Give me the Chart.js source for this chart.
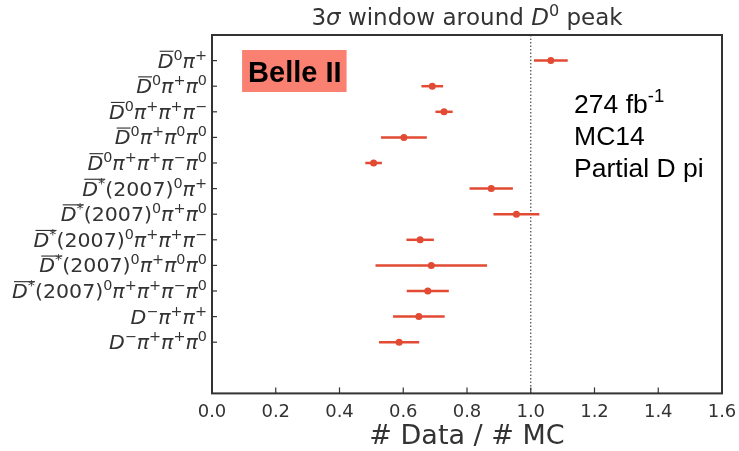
<!DOCTYPE html>
<html>
<head>
<meta charset="utf-8">
<script src="https://cdn.jsdelivr.net/npm/chart.js@4.4.1/dist/chart.umd.min.js"></script>
<style>
  html, body { margin: 0; padding: 0; background: #fff; }
  #wrap { width: 739px; height: 451px; }
</style>
</head>
<body>
<div id="wrap"><canvas id="ratioChart" width="739" height="451"></canvas></div>
<script>
// decay channels, top to bottom (mathtext-like strings)
let channels = [
  "$\\overline{D}^0\\pi^+$",
  "$\\overline{D}^0\\pi^+\\pi^0$",
  "$\\overline{D}^0\\pi^+\\pi^+\\pi^-$",
  "$\\overline{D}^0\\pi^+\\pi^0\\pi^0$",
  "$\\overline{D}^0\\pi^+\\pi^+\\pi^-\\pi^0$",
  "$\\overline{D^*}(2007)^0\\pi^+$",
  "$\\overline{D^*}(2007)^0\\pi^+\\pi^0$",
  "$\\overline{D^*}(2007)^0\\pi^+\\pi^+\\pi^-$",
  "$\\overline{D^*}(2007)^0\\pi^+\\pi^0\\pi^0$",
  "$\\overline{D^*}(2007)^0\\pi^+\\pi^+\\pi^-\\pi^0$",
  "$D^-\\pi^+\\pi^+$",
  "$D^-\\pi^+\\pi^+\\pi^0$"
];

// # Data / # MC and its uncertainty
let ratios = [1.063, 0.691, 0.728, 0.602, 0.507, 0.876, 0.955, 0.653, 0.688, 0.677, 0.649, 0.587];
let errors = [0.053, 0.034, 0.027, 0.072, 0.026, 0.068, 0.072, 0.043, 0.175, 0.066, 0.081, 0.063];

let xTicks = [0.0, 0.2, 0.4, 0.6, 0.8, 1.0, 1.2, 1.4, 1.6];
let refLine = 1.0;

let titleText = "3$\\sigma$ window around $D^0$ peak";
let xTitle = "# Data / # MC";
let badgeText = "Belle II";
let infoLines = ["274 fb^{-1}", "MC14", "Partial D pi"];

let red = "#e24a33";
let mathFont = "'DejaVu Sans', sans-serif";
let textFont = "'Liberation Sans', Arial, sans-serif";

// ---- tiny mathtext renderer ----
let symbols = { "\\pi": "π", "\\sigma": "σ" };
let overId = 0;

function group(s, i) {
  if (s[i] === "{") {
    let depth = 0, j = i;
    do {
      if (s[j] === "{") depth++;
      if (s[j] === "}") depth--;
      j++;
    } while (depth > 0);
    return [s.slice(i + 1, j - 1), j];
  }
  if (s[i] === "\\") {
    let m = s.slice(i).match(/^\\[a-zA-Z]+/)[0];
    return [m, i + m.length];
  }
  return [s[i], i + 1];
}

function parse(s, style, runs) {
  let i = 0;
  while (i < s.length) {
    let c = s[i];
    if (c === "$") {
      style = Object.assign({}, style, { math: !style.math });
      i++;
    } else if (c === "^") {
      let [g, j] = group(s, i + 1);
      parse(g, Object.assign({}, style, { sup: true }), runs);
      i = j;
    } else if (c === "\\") {
      let cmd = s.slice(i).match(/^\\[a-zA-Z]+/)[0];
      i += cmd.length;
      if (cmd === "\\overline") {
        let [g, j] = group(s, i);
        parse(g, Object.assign({}, style, { over: ++overId }), runs);
        i = j;
      } else {
        runs.push({ text: symbols[cmd] || cmd, italic: style.math, sup: style.sup, over: style.over });
      }
    } else {
      let ch = c;
      let italic = false;
      if (style.math) {
        if (ch === "-") ch = "\u2212";
        italic = /[A-Za-z]/.test(ch);
      }
      runs.push({ text: ch, italic: italic, sup: style.sup, over: style.over });
      i++;
    }
  }
  return runs;
}

function runFont(r, size, family, weight) {
  let s = r.sup ? size * 0.7 : size;
  return (r.italic ? "italic " : "") + (weight || "normal") + " " + s + "px " + family;
}

function drawRich(ctx, str, x, y, opt) {
  let sx = opt.sx || 1;
  let runs = parse(str, {}, []);
  let total = 0;
  runs.forEach(r => {
    ctx.font = runFont(r, opt.size, opt.family, opt.weight);
    r.w = ctx.measureText(r.text).width * sx;
    total += r.w;
  });
  let cx = x;
  if (opt.align === "right") cx = x - total;
  if (opt.align === "center") cx = x - total / 2;
  ctx.fillStyle = opt.color;
  ctx.textBaseline = "alphabetic";
  ctx.textAlign = "left";
  let spans = {};
  runs.forEach(r => {
    ctx.font = runFont(r, opt.size, opt.family, opt.weight);
    let rise = r.sup ? opt.size * (opt.rise || 0.42) : 0;
    ctx.save();
    ctx.translate(cx, y - rise);
    ctx.scale(sx, 1);
    ctx.fillText(r.text, 0, 0);
    ctx.restore();
    if (r.over) {
      let sp = spans[r.over] || (spans[r.over] = { a: cx, b: cx });
      sp.b = cx + r.w;
    }
    cx += r.w;
  });
  ctx.strokeStyle = opt.color;
  ctx.lineWidth = Math.max(1, opt.size * 0.06);
  Object.values(spans).forEach(sp => {
    let ly = y - opt.size * 0.86;
    ctx.beginPath();
    ctx.moveTo(sp.a + 2, ly);
    ctx.lineTo(sp.b, ly);
    ctx.stroke();
  });
  return total;
}

// ---- plugin: error bars, frame, labels, annotations ----
let decorations = {
  id: "decorations",
  beforeDatasetsDraw(chart) {
    let ctx = chart.ctx;
    let a = chart.chartArea;
    let xs = chart.scales.x;
    let ys = chart.scales.y;
    ctx.save();

    // reference line
    let rx = xs.getPixelForValue(refLine);
    ctx.strokeStyle = "#555";
    ctx.lineWidth = 1.3;
    ctx.setLineDash([1.5, 2]);
    ctx.beginPath();
    ctx.moveTo(rx, a.top);
    ctx.lineTo(rx, a.bottom);
    ctx.stroke();
    ctx.setLineDash([]);

    // error bars
    ctx.strokeStyle = red;
    ctx.lineWidth = 2.5;
    ratios.forEach((v, i) => {
      let py = ys.getPixelForValue(i);
      ctx.beginPath();
      ctx.moveTo(xs.getPixelForValue(v - errors[i]), py);
      ctx.lineTo(xs.getPixelForValue(v + errors[i]), py);
      ctx.stroke();
    });
    ctx.restore();
  },
  afterDraw(chart) {
    let ctx = chart.ctx;
    let a = chart.chartArea;
    let xs = chart.scales.x;
    let ys = chart.scales.y;
    ctx.save();

    // frame
    ctx.strokeStyle = "#333";
    ctx.lineWidth = 2;
    ctx.strokeRect(a.left, a.top, a.right - a.left, a.bottom - a.top);

    // inward ticks
    ctx.lineWidth = 1.2;
    xTicks.forEach(t => {
      let px = xs.getPixelForValue(t);
      ctx.beginPath();
      ctx.moveTo(px, a.bottom);
      ctx.lineTo(px, a.bottom - 6);
      ctx.stroke();
    });
    channels.forEach((c, i) => {
      let py = ys.getPixelForValue(i);
      ctx.beginPath();
      ctx.moveTo(a.left, py);
      ctx.lineTo(a.left + 5, py);
      ctx.stroke();
    });

    // channel labels
    channels.forEach((c, i) => {
      let py = ys.getPixelForValue(i);
      drawRich(ctx, c, a.left - 5, py + 7, { size: 19, sx: 1.08, family: mathFont, color: "#333", align: "right" });
    });

    // title
    drawRich(ctx, titleText, (a.left + a.right) / 2, a.top - 10, { size: 23, family: mathFont, color: "#333", align: "center", rise: 0.38 });

    // Belle II badge
    let bx = a.left + (a.right - a.left) * 0.059;
    let by = a.top + 15;
    ctx.font = "bold 29px " + textFont;
    let bw = ctx.measureText(badgeText).width;
    ctx.fillStyle = "#fa8072";
    ctx.fillRect(bx, by, bw + 11, 42);
    ctx.fillStyle = "#000";
    ctx.textAlign = "left";
    ctx.textBaseline = "alphabetic";
    ctx.fillText(badgeText, bx + 6, by + 32);

    // info text
    let ix = a.left + (a.right - a.left) * 0.71;
    infoLines.forEach((t, k) => {
      drawRich(ctx, t, ix, a.top + 78 + k * 32, { size: 26.5, family: textFont, color: "#000", align: "left", rise: 0.42 });
    });
    ctx.restore();
  }
};

let ctx = document.getElementById("ratioChart").getContext("2d");

new Chart(ctx, {
  type: "scatter",
  plugins: [decorations],
  data: {
    datasets: [{
      data: ratios.map((v, i) => ({ x: v, y: i })),
      backgroundColor: red,
      borderColor: red,
      pointRadius: 3.5,
      pointBorderWidth: 0
    }]
  },
  options: {
    responsive: false,
    animation: false,
    devicePixelRatio: 1,
    layout: { padding: { top: 35, right: 17, bottom: 1, left: 0 } },
    plugins: {
      legend: { display: false },
      tooltip: { enabled: false }
    },
    scales: {
      x: {
        type: "linear",
        min: xTicks[0],
        max: xTicks[xTicks.length - 1],
        afterBuildTicks: s => { s.ticks = xTicks.map(v => ({ value: v })); },
        grid: { display: false },
        border: { display: false },
        ticks: {
          padding: 0,
          color: "#333",
          font: { family: "DejaVu Sans", size: 18 },
          callback: v => v.toFixed(1)
        },
        title: {
          display: true,
          text: xTitle,
          color: "#333",
          font: { family: "DejaVu Sans", size: 27, lineHeight: 1.0 },
          padding: { top: 0, bottom: 0 }
        }
      },
      y: {
        type: "linear",
        min: -1,
        max: channels.length + 1,
        reverse: true,
        grid: { display: false },
        border: { display: false },
        ticks: { display: false },
        afterFit: s => { s.width = 212; }
      }
    }
  }
});
</script>
</body>
</html>
